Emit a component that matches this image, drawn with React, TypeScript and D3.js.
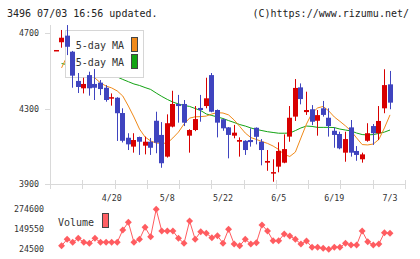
import React, { useEffect, useRef } from "react";
import * as d3 from "d3";

// daily candles, 2023-04-06 .. 2023-07-03 (61 trading days)
const opens = [
  4610, 4651, 4686, 4601, 4446, 4407, 4477, 4430, 4437, 4410,
  4355, 4357, 4276, 4145, 4098, 4149, 4103, 4124, 4235, 4160,
  4045, 4204, 4324, 4324, 4156, 4186, 4303, 4313, 4477, 4292,
  4243, 4200, 4156, 4124, 4129, 4133, 4198, 4124, 4013, 3957,
  3992, 4013, 4151, 4257, 4412, 4281, 4296, 4235, 4301, 4251,
  4182, 4165, 4066, 4200, 4075, 4031, 4129, 4207, 4169, 4301,
  4428,
];
const highs = [
  4610, 4716, 4742, 4605, 4488, 4463, 4495, 4509, 4451, 4424,
  4380, 4360, 4301, 4169, 4169, 4151, 4151, 4144, 4283, 4228,
  4269, 4394, 4372, 4345, 4190, 4313, 4372, 4463, 4488, 4295,
  4245, 4202, 4213, 4147, 4132, 4195, 4200, 4138, 4080, 4031,
  4121, 4163, 4313, 4456, 4433, 4389, 4318, 4292, 4340, 4301,
  4200, 4177, 4177, 4239, 4101, 4066, 4222, 4218, 4313, 4508,
  4499,
];
const lows = [
  4610, 4622, 4583, 4410, 4382, 4380, 4368, 4345, 4371, 4336,
  4315, 4128, 4120, 4080, 4066, 4054, 4057, 4054, 4063, 3986,
  4040, 4200, 4225, 4207, 4066, 4180, 4230, 4301, 4280, 4147,
  4182, 4036, 4142, 4045, 4054, 4098, 4110, 3999, 3970, 3912,
  3962, 4010, 4124, 4234, 4322, 4266, 4212, 4156, 4257, 4151,
  4092, 4084, 4018, 4045, 4023, 4013, 4124, 4107, 4133, 4275,
  4296,
];
const closes = [
  4610, 4675, 4627, 4474, 4414, 4430, 4407, 4410, 4403, 4345,
  4360, 4275, 4129, 4110, 4133, 4124, 4124, 4092, 4119, 4010,
  4222, 4324, 4313, 4225, 4186, 4244, 4292, 4354, 4283, 4225,
  4195, 4160, 4172, 4133, 4080, 4122, 4150, 4080, 4022, 3963,
  4075, 4085, 4251, 4409, 4350, 4292, 4230, 4265, 4266, 4207,
  4160, 4089, 4138, 4066, 4054, 4057, 4169, 4169, 4234, 4424,
  4331,
];

// moving averages
const ma5 = [
  null, 4515, 4578, 4546, 4515, 4493, 4477, 4462, 4435, 4419,
  4409, 4393, 4366, 4313, 4255, 4191, 4149, 4128, 4117, 4115,
  4117, 4144, 4175, 4218, 4249, 4256, 4257, 4260, 4271, 4278,
  4276, 4266, 4239, 4205, 4170, 4146, 4136, 4125, 4115, 4101,
  4083, 4056, 4046, 4069, 4144, 4218, 4276, 4303, 4311, 4287,
  4255, 4232, 4208, 4181, 4144, 4109, 4107, 4112, 4136, 4197,
  4266,
];
const ma25 = [
  null, 4538, 4533, 4525, 4517, 4509, 4501, 4493, 4485, 4477,
  4472, 4467, 4454, 4442, 4430, 4422, 4411, 4401, 4382, 4364,
  4348, 4334, 4324, 4316, 4311, 4300, 4289, 4271, 4263, 4255,
  4247, 4236, 4226, 4215, 4207, 4197, 4189, 4183, 4177, 4173,
  4169, 4169, 4170, 4183, 4197, 4207, 4205, 4200, 4200, 4200,
  4199, 4191, 4186, 4181, 4170, 4162, 4160, 4162, 4168, 4175,
  4186,
];

const volumes = [
  null, 45100, 85150, 66400, 91400, 66400, 60100, 91400, 66400, 66400,
  66400, 66400, 143300, 191400, 66400, 85150, 160200, 101400, 272700, 137000,
  137000, 137000, 91400, 60100, 199600, 85150, 132700, 122700, 95200, 107700,
  60100, 147700, 55800, 45100, 85150, 55800, 63900, 174600, 137000, 76400,
  76400, 118300, 105800, 85150, 55800, 74500, 35100, 35100, 28900, 22600,
  35100, 35100, 60100, 49500, 49500, 137000, 70100, 49500, 55800, 126400,
  122700,
];

const dateLabels = ["4/20", "5/8", "5/22", "6/5", "6/19", "7/3"];
const dateLabelIdx = [10, 20, 30, 40, 50, 60];
const priceTicks = [3900, 4300, 4700];
const volumeTicks = [24500, 149550, 274600];

export default function App() {
  const svgRef = useRef<SVGSVGElement>(null);

  useEffect(() => {
    const svg = d3.select(svgRef.current);
    svg.selectAll("*").remove();

    const mono = "'DejaVu Sans Mono', monospace";
    const axisColor = "#d9d9d9";
    const textColor = "#333";
    const upColor = "#d80000";
    const downColor = "#3f44bf";
    const volColor = "#ff5c60";

    const x = d3.scaleLinear().domain([0, closes.length - 1]).range([56, 390]);
    const y = d3.scaleLinear().domain([3900, 4700]).range([184, 33]);
    const yVol = d3.scaleLinear().domain([24500, 274600]).range([249, 209]);
    // evenly spaced grid ticks along the bottom
    const xGrid = d3.scaleLinear().domain([0, 11]).range([50, 405]);

    //header
    svg.append("text")
      .attr("x", 7).attr("y", 17)
      .attr("font-family", mono).attr("font-size", 10).attr("fill", "#222")
      .text("3496 07/03 16:56 updated.");
    svg.append("text")
      .attr("x", 409).attr("y", 17)
      .attr("text-anchor", "end")
      .attr("font-family", mono).attr("font-size", 10).attr("fill", "#222")
      .text("(C)https://www.rizumu.net/");

    //axes
    const axes = svg.append("g").attr("stroke", axisColor).attr("stroke-width", 1);
    axes.append("line").attr("x1", 50.5).attr("x2", 50.5).attr("y1", 25).attr("y2", 189);
    axes.append("line").attr("x1", 45).attr("x2", 405).attr("y1", 184.5).attr("y2", 184.5);
    axes.selectAll(".yt").data(priceTicks).join("line")
      .attr("x1", 45).attr("x2", 50)
      .attr("y1", (d) => Math.round(y(d)) + 0.5)
      .attr("y2", (d) => Math.round(y(d)) + 0.5);
    axes.selectAll(".xt").data(d3.range(12)).join("line")
      .attr("x1", (d) => Math.round(xGrid(d)) + 0.5)
      .attr("x2", (d) => Math.round(xGrid(d)) + 0.5)
      .attr("y1", 180).attr("y2", 189);

    svg.append("g").selectAll("text").data(priceTicks).join("text")
      .attr("x", 39).attr("y", (d) => y(d) + 3)
      .attr("text-anchor", "end")
      .attr("font-family", mono).attr("font-size", 8.3).attr("fill", textColor)
      .text((d) => d);

    svg.append("g").selectAll("text").data(dateLabels).join("text")
      .attr("x", (d, i) => x(dateLabelIdx[i]))
      .attr("y", 201)
      .attr("text-anchor", "middle")
      .attr("font-family", mono).attr("font-size", 8.3).attr("fill", textColor)
      .text((d) => d);

    //moving average lines
    const maLine = d3.line<number | null>()
      .defined((d) => d !== null)
      .x((d, i) => x(i))
      .y((d) => y(d as number));
    svg.append("path").datum(ma25)
      .attr("fill", "none").attr("stroke", "#13a313").attr("stroke-width", 1)
      .attr("d", maLine);
    svg.append("path").datum(ma5)
      .attr("fill", "none").attr("stroke", "#f08a1a").attr("stroke-width", 1)
      .attr("d", maLine);

    //legend box sits over the averages
    const legend = svg.append("g");
    legend.append("rect")
      .attr("x", 65.5).attr("y", 30.5).attr("width", 78).attr("height", 47)
      .attr("fill", "#fff").attr("stroke", "#d6d6d6");
    const legendItems = [
      { label: "5-day MA", color: "#f08a1a" },
      { label: "25-day MA", color: "#13a313" },
    ];
    legendItems.forEach((item, i) => {
      legend.append("text")
        .attr("x", 124).attr("y", 49 + i * 17)
        .attr("text-anchor", "end")
        .attr("font-family", mono).attr("font-size", 10).attr("fill", textColor)
        .text(item.label);
      legend.append("rect")
        .attr("x", 131.5).attr("y", 37.5 + i * 17).attr("width", 6).attr("height", 14)
        .attr("fill", item.color).attr("stroke", "#444");
    });

    //candles
    const candles = svg.append("g");
    closes.forEach((c, i) => {
      const o = opens[i];
      const color = c >= o ? upColor : downColor;
      const bx = Math.round(x(i) - 2.5);
      candles.append("line")
        .attr("x1", bx + 2.5).attr("x2", bx + 2.5)
        .attr("y1", y(highs[i])).attr("y2", y(lows[i]))
        .attr("stroke", color).attr("stroke-width", 1);
      const top = y(Math.max(o, c));
      const h = Math.max(1.5, Math.abs(y(o) - y(c)));
      candles.append("rect")
        .attr("x", bx).attr("y", top)
        .attr("width", 5).attr("height", h)
        .attr("fill", color);
    });

    //volume panel
    svg.append("g").selectAll("text").data(volumeTicks).join("text")
      .attr("x", 44).attr("y", (d) => yVol(d) + 3)
      .attr("text-anchor", "end")
      .attr("font-family", mono).attr("font-size", 8.3).attr("fill", textColor)
      .text((d) => d);

    const volLine = d3.line<number | null>()
      .defined((d) => d !== null)
      .x((d, i) => x(i))
      .y((d) => yVol(d as number));
    svg.append("path").datum(volumes)
      .attr("fill", "none").attr("stroke", volColor).attr("stroke-width", 1)
      .attr("d", volLine);

    const diamond = d3.symbol(d3.symbolSquare, 24)();
    svg.append("g").selectAll("path")
      .data(volumes.map((v, i) => ({ v, i })).filter((d) => d.v !== null))
      .join("path")
      .attr("d", diamond)
      .attr("transform", (d) => `translate(${x(d.i)},${yVol(d.v as number)}) rotate(45)`)
      .attr("fill", volColor);

    svg.append("text")
      .attr("x", 58).attr("y", 226)
      .attr("font-family", mono).attr("font-size", 10).attr("fill", textColor)
      .text("Volume");
    svg.append("rect")
      .attr("x", 102.5).attr("y", 213.5).attr("width", 6).attr("height", 14)
      .attr("fill", "#ff6064").attr("stroke", "#444");
  }, []);

  return (
    <svg
      ref={svgRef}
      width={420}
      height={259}
      style={{ position: "absolute", left: 0, top: 0, background: "#fff" }}
    ></svg>
  );
}
